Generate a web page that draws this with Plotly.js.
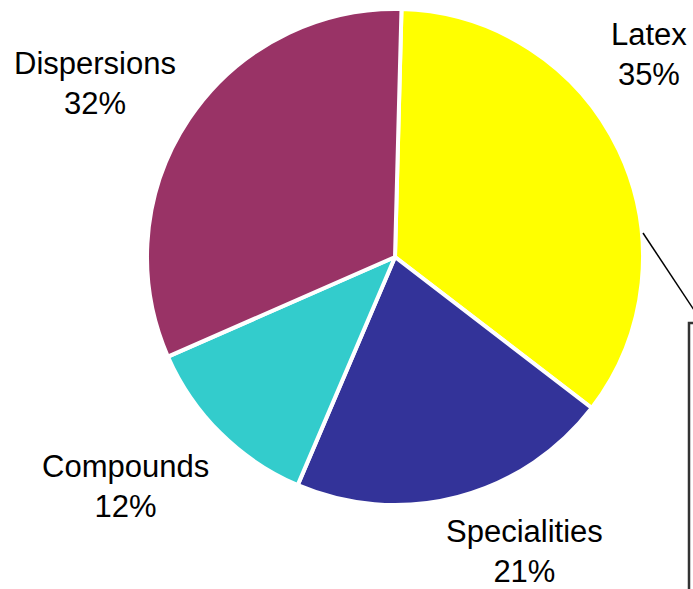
<!DOCTYPE html>
<html>
<head>
<meta charset="utf-8">
<script src="https://cdn.plot.ly/plotly-3.0.1.min.js"></script>
<style>html,body{margin:0;padding:0;background:#fff;}</style>
</head>
<body>
<div id="chart" style="width:693px;height:589px;"></div>
<script>
const categories = ["Latex", "Specialities", "Compounds", "Dispersions"];
const shares = [35, 21, 12, 32];
const sliceColors = ["#FFFF00", "#333399", "#33CCCC", "#993366"];

const W = 693, H = 589;
// label centres in pixels (layout only)
const labelPos = [[649, 55], [524, 551], [125, 486], [95, 83]];

const annotations = categories.map((c, i) => ({
  text: c + "<br>" + shares[i] + "%",
  xref: "paper", yref: "paper",
  x: labelPos[i][0] / W, y: 1 - labelPos[i][1] / H,
  xanchor: "center", yanchor: "middle",
  showarrow: false,
  font: {family: "Liberation Sans, Arial, sans-serif", size: 31, color: "#000"}
}));

const cx = 395, cy = 257, r = 248;
Plotly.newPlot("chart", [{
  type: "pie",
  labels: categories,
  values: shares,
  sort: false,
  direction: "clockwise",
  rotation: 1.5,
  textinfo: "none",
  hoverinfo: "label+percent",
  marker: {colors: sliceColors, line: {color: "#ffffff", width: 4}},
  domain: {x: [(cx - r) / W, (cx + r) / W], y: [1 - (cy + r) / H, 1 - (cy - r) / H]}
}], {
  width: W, height: H,
  margin: {l: 0, r: 0, t: 0, b: 0},
  showlegend: false,
  paper_bgcolor: "#ffffff",
  annotations: annotations,
  shapes: [
    {type: "line", xref: "paper", yref: "paper", x0: 643 / W, y0: 1 - 233 / H, x1: 694 / W, y1: 1 - 310 / H,
     line: {color: "#000", width: 1.5}},
    {type: "rect", xref: "paper", yref: "paper", x0: 689 / W, y0: 1 - 323 / H, x1: 710 / W, y1: -0.05,
     line: {color: "#333", width: 2.5}, fillcolor: "rgba(0,0,0,0)"}
  ]
}, {staticPlot: true});
</script>
</body>
</html>
